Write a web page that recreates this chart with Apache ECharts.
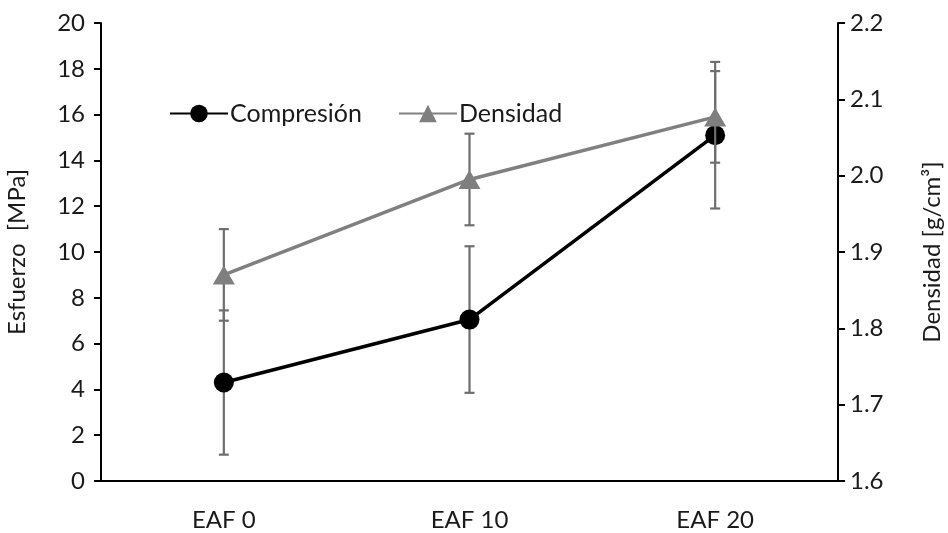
<!DOCTYPE html>
<html>
<head>
<meta charset="utf-8">
<script src="https://cdn.jsdelivr.net/npm/echarts@6/dist/echarts.min.js"></script>
<style>html,body{margin:0;padding:0;background:#fff;}#c{width:948px;height:533px;}</style>
</head>
<body>
<div id="c"></div>
<script>
const categories = ['EAF 0', 'EAF 10', 'EAF 20'];
const compresion = [4.3, 7.05, 15.1];
const compresionErr = [3.15, 3.2, 3.2];
const densidad = [1.87, 1.995, 2.077];
const densidadErr = [0.06, 0.06, 0.06];
const leftTicks = {min: 0, max: 20, interval: 2};
const rightTicks = {min: 1.6, max: 2.2, interval: 0.1};

const FONT = 'Lato';
const chart = echarts.init(document.getElementById('c'));

function errData(means, errs) {
  return means.map((m, i) => [i, m - errs[i], m + errs[i]]);
}
function errRender(params, api) {
  const x = api.value(0);
  const p1 = api.coord([x, api.value(1)]);
  const p2 = api.coord([x, api.value(2)]);
  const w = 5;
  const style = {stroke: '#6e6e6e', lineWidth: 2.2};
  return {
    type: 'group',
    children: [
      {type: 'line', shape: {x1: p1[0], y1: p1[1], x2: p2[0], y2: p2[1]}, style},
      {type: 'line', shape: {x1: p1[0] - w, y1: p1[1], x2: p1[0] + w, y2: p1[1]}, style},
      {type: 'line', shape: {x1: p2[0] - w, y1: p2[1], x2: p2[0] + w, y2: p2[1]}, style}
    ]
  };
}

const axisText = {color: '#1a1a1a', fontFamily: FONT, fontSize: 24};

chart.setOption({
  animation: false,
  backgroundColor: '#fff',
  grid: {left: 101, right: 110, top: 23, bottom: 52, containLabel: false, outerBoundsMode: 'none'},
  legend: {
    left: 164, top: 96,
    itemWidth: 58, itemHeight: 22, itemGap: 36,
    textStyle: {color: '#1a1a1a', fontFamily: FONT, fontSize: 25, padding: [0, 0, 0, -3]},
    data: [{name: 'Compresión'}, {name: 'Densidad'}]
  },
  xAxis: {
    type: 'category', data: categories, boundaryGap: true,
    axisLine: {lineStyle: {color: '#000', width: 2}},
    axisTick: {alignWithLabel: true, length: 6, lineStyle: {color: '#000', width: 2}},
    axisLabel: Object.assign({margin: 27}, axisText),
    splitLine: {show: false}
  },
  yAxis: [
    {
      type: 'value', min: leftTicks.min, max: leftTicks.max, interval: leftTicks.interval,
      name: 'Esfuerzo  [MPa]', nameLocation: 'middle', nameGap: 72, nameRotate: 90,
      nameTextStyle: axisText,
      axisLine: {show: true, lineStyle: {color: '#000', width: 2}},
      axisTick: {show: true, length: 7, lineStyle: {color: '#000', width: 2}},
      axisLabel: Object.assign({margin: 16}, axisText),
      splitLine: {show: false}
    },
    {
      type: 'value', position: 'right', min: rightTicks.min, max: rightTicks.max, interval: rightTicks.interval,
      name: 'Densidad [g/cm³]', nameLocation: 'middle', nameGap: 82, nameRotate: 90,
      nameTextStyle: axisText,
      axisLine: {show: true, lineStyle: {color: '#000', width: 2}},
      axisTick: {show: true, length: 7, lineStyle: {color: '#000', width: 2}},
      axisLabel: Object.assign({margin: 12, formatter: v => v.toFixed(1)}, axisText),
      splitLine: {show: false}
    }
  ],
  series: [
    {
      type: 'custom', name: 'errC', yAxisIndex: 0, z: 1,
      renderItem: errRender, data: errData(compresion, compresionErr), silent: true
    },
    {
      name: 'Compresión', type: 'line', yAxisIndex: 0, data: compresion, z: 2,
      symbol: 'circle', symbolSize: 20,
      lineStyle: {color: '#000', width: 3.5}, itemStyle: {color: '#000'}
    },
    {
      type: 'custom', name: 'errD', yAxisIndex: 1, z: 3,
      renderItem: errRender, data: errData(densidad, densidadErr), silent: true
    },
    {
      name: 'Densidad', type: 'line', yAxisIndex: 1, data: densidad, z: 4,
      symbol: 'triangle', symbolSize: [22, 19],
      lineStyle: {color: '#808080', width: 3.5}, itemStyle: {color: '#7f7f7f'}
    }
  ]
});
</script>
</body>
</html>
